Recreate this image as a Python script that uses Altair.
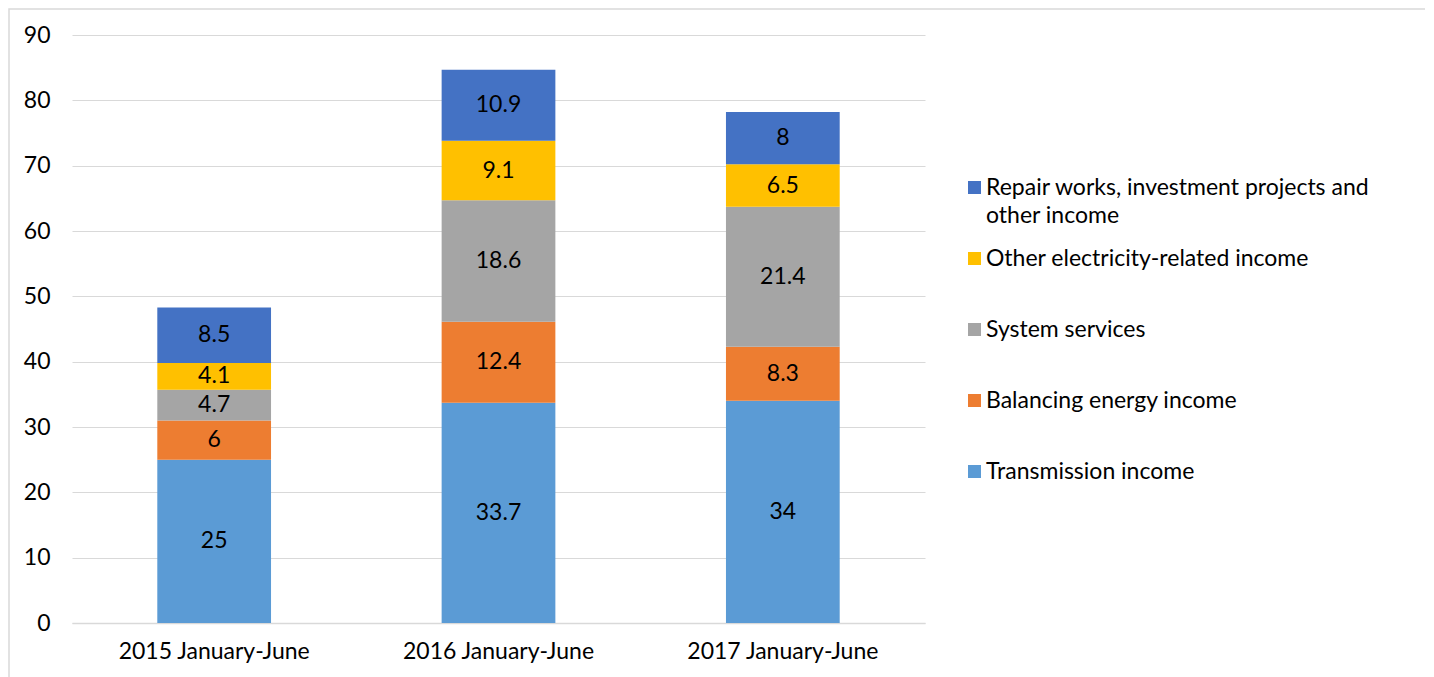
import altair as alt
import pandas as pd

periods = ["2015 January-June", "2016 January-June", "2017 January-June"]
series = [
    "Transmission income",
    "Balancing energy income",
    "System services",
    "Other electricity-related income",
    "Repair works, investment projects and other income",
]
transmission = [25, 33.7, 34]
balancing = [6, 12.4, 8.3]
system_services = [4.7, 18.6, 21.4]
other_electricity = [4.1, 9.1, 6.5]
repair = [8.5, 10.9, 8]
colors = ["#5B9BD5", "#ED7D31", "#A5A5A5", "#FFC000", "#4472C4"]
y_ticks = [0, 10, 20, 30, 40, 50, 60, 70, 80, 90]

rows = []
for si, (name, vals) in enumerate(
    zip(series, [transmission, balancing, system_services, other_electricity, repair])
):
    for p, v in zip(periods, vals):
        rows.append({"period": p, "series": name, "value": v, "order": si})
df = pd.DataFrame(rows)

FONT = "Lato"
FS = 23
legend_domain = series[::-1]
legend_range = colors[::-1]

x_enc = alt.X(
    "period:N",
    sort=periods,
    title=None,
    scale=alt.Scale(paddingInner=0.6, paddingOuter=0.3),
    axis=alt.Axis(
        labelAngle=0,
        labelFontSize=FS,
        labelColor="#000000",
        labelFont=FONT,
        labelPadding=17,
        labelLimit=400,
        ticks=False,
        domainColor="#d9d9d9",
        domainWidth=1.5,
    ),
)

base = (
    alt.Chart(df)
    .transform_stack(
        stack="value",
        groupby=["period"],
        sort=[alt.SortField("order", "ascending")],
        as_=["y0", "y1"],
    )
    .transform_calculate(mid="(datum.y0 + datum.y1) / 2")
)

bars = base.mark_bar().encode(
    x=x_enc,
    y=alt.Y(
        "y0:Q",
        title=None,
        scale=alt.Scale(domain=[0, 90], nice=False),
        axis=alt.Axis(
            values=y_ticks,
            labelFontSize=FS,
            labelColor="#000000",
            labelFont=FONT,
            labelPadding=22,
            ticks=False,
            domain=False,
            gridColor="#d9d9d9",
            gridWidth=1.2,
        ),
    ),
    y2="y1:Q",
    color=alt.Color(
        "series:N",
        scale=alt.Scale(domain=legend_domain, range=legend_range),
        legend=alt.Legend(
            title=None,
            orient="none",
            legendX=891,
            legendY=141,
            symbolType="square",
            symbolSize=170,
            symbolStrokeWidth=0,
            labelFontSize=FS,
            labelFont=FONT,
            labelColor="#000000",
            labelOffset=0,
            labelLimit=500,
            gridAlign="all",
            rowPadding=19,
            padding=0,
            labelExpr="datum.label == 'Repair works, investment projects and other income' ? ['Repair works, investment projects and', 'other income'] : datum.label",
        ),
    ),
)

labels = base.mark_text(fontSize=FS, font=FONT, color="#000000").encode(
    x=x_enc,
    y=alt.Y("mid:Q"),
    text=alt.Text("value:Q"),
)

border = (
    alt.Chart(alt.Data(values=[{}]))
    .mark_rect(fillOpacity=0, stroke="#d9d9d9", strokeWidth=1.5)
    .encode(
        x=alt.value(-63),
        x2=alt.value(1355),
        y=alt.value(-26),
        y2=alt.value(700),
    )
)

chart = (
    alt.layer(bars, labels, border)
    .properties(
        width=853,
        height=588,
        autosize=alt.AutoSizeParams(type="none"),
        padding={"left": 64, "top": 27, "right": 500, "bottom": 54},
    )
    .configure(background="#ffffff", style={"guide-label": {"lineHeight": 28}})
    .configure_view(stroke="transparent", strokeWidth=0)
)

chart.save("out.html", embed_options={"renderer": "svg", "actions": False})
